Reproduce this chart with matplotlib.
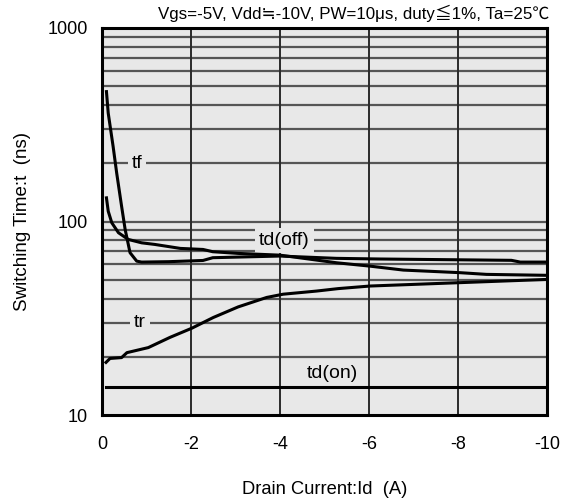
import matplotlib
matplotlib.use("Agg")
import matplotlib.pyplot as plt
import numpy as np

plt.rcParams['font.family'] = ['Liberation Sans', 'Noto Sans CJK JP', 'DejaVu Sans']

# ---- data ----
id_tf = [-0.10, -0.14, -0.25, -0.33, -0.44, -0.52, -0.63, -0.78, -0.89, -1.5, -2.27, -2.49, -4.0, -5.27, -6.25, -9.2, -9.4, -10.0]
tf    = [469, 363, 244, 178, 120, 91, 69, 62.4, 61.7, 62.0, 62.9, 65.0, 66.3, 64.5, 64.0, 63.0, 61.7, 61.7]

id_tdoff = [-0.10, -0.14, -0.22, -0.37, -0.59, -0.89, -1.19, -1.76, -2.27, -2.49, -3.06, -4.0, -5.27, -6.02, -6.77, -8.04, -8.64, -10.0]
tdoff    = [132.5, 113, 98.5, 87.5, 80.8, 77.6, 76.1, 72.6, 71.7, 69.8, 68.4, 67.0, 61.2, 58.8, 56.1, 54.4, 53.3, 52.7]

id_tr = [-0.09, -0.18, -0.44, -0.56, -1.04, -1.53, -2.02, -2.50, -3.06, -3.70, -4.07, -4.82, -5.31, -6.02, -8.04, -10.0]
tr    = [18.7, 19.6, 19.8, 21.0, 22.3, 25.2, 28.1, 31.9, 36.2, 40.5, 42.1, 43.7, 45.0, 46.4, 48.3, 50.2]

id_tdon = [-0.09, -10.0]
tdon    = [14.0, 14.0]

x_ticks = [0, -2, -4, -6, -8, -10]
y_ticks = [10, 100, 1000]
title = "Vgs=-5V, Vdd≒-10V, PW=10μs, duty≦1%, Ta=25℃"

fig = plt.figure(figsize=(5.69, 5.01), dpi=100)
ax = fig.add_axes([102/569, 86/501, 445/569, 387/501])
ax.set_facecolor('#e8e8e8')

ax.set_yscale('log')
ax.set_ylim(10, 1000)
ax.set_xlim(0, -10)

# grid
minor_vals = [m * 10**e for e in (1, 2) for m in range(2, 10)]
for v in minor_vals:
    ax.axhline(v, color='#555555', lw=1.6, zorder=1)
ax.axhline(100, color='#555555', lw=1.6, zorder=1)
for xv in x_ticks[1:-1]:
    ax.axvline(xv, color='#2a2a2a', lw=1.4, zorder=1)

for xs, ys in ((id_tf, tf), (id_tdoff, tdoff), (id_tr, tr), (id_tdon, tdon)):
    ax.plot(xs, ys, color='black', lw=2.2, zorder=3, solid_joinstyle='round')

bb = dict(boxstyle='square,pad=0.2', fc='#e8e8e8', ec='none')
ax.text(-0.79, 200, 'tf', fontsize=14, ha='center', va='center', bbox=bb, zorder=2)
ax.text(-0.85, 30, 'tr', fontsize=14, ha='center', va='center', bbox=bb, zorder=2)
ax.text(-4.1, 80, 'td(off)', fontsize=14, ha='center', va='center', bbox=bb, zorder=2)
ax.text(-5.17, 16.3, 'td(on)', fontsize=14, ha='center', va='center', zorder=2)

ax.set_xticks(x_ticks)
ax.set_xticklabels([str(v) for v in x_ticks])
ax.set_yticks(y_ticks)
ax.set_yticklabels([str(v) for v in y_ticks])
ax.yaxis.set_minor_locator(matplotlib.ticker.NullLocator())
ax.tick_params(axis='both', length=0, labelsize=13)
ax.tick_params(axis='x', pad=15)
ax.tick_params(axis='y', pad=10)

for s in ax.spines.values():
    s.set_linewidth(2.2)
    s.set_color('black')
    s.set_zorder(4)

ax.set_xlabel('Drain Current:Id  (A)', fontsize=13.2, labelpad=20)
ax.set_ylabel('Switching Time:t  (ns)', fontsize=13.5, labelpad=12)

fig.text(549/569, 1 - 13/501, title, ha='right', va='center', fontsize=12.2)

fig.savefig('out.png', dpi=100)
